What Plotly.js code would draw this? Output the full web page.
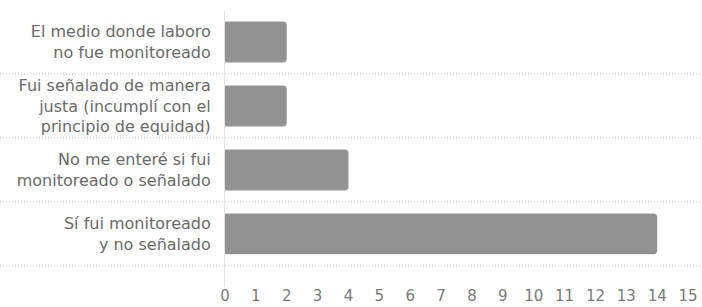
<!DOCTYPE html>
<html><head><meta charset="utf-8">
<script src="https://cdn.plot.ly/plotly-3.0.1.min.js"></script>
<style>html,body{margin:0;padding:0;background:#fff}#chart{width:702px;height:307px}</style>
</head><body><div id="chart"></div>
<script>
const categories = [
  "El medio donde laboro<br>no fue monitoreado",
  "Fui señalado de manera<br>justa (incumplí con el<br>principio de equidad)",
  "No me enteré si fui<br>monitoreado o señalado",
  "Sí fui monitoreado<br>y no señalado"
];
const values = [2, 2, 4, 14];
const xTicks = [0,1,2,3,4,5,6,7,8,9,10,11,12,13,14,15];

const L = 225, W = 702;
const sepShapes = [0.5, 1.5, 2.5, 3.5].map(v => ({
  type: 'line', xref: 'paper', yref: 'y',
  x0: -L/(W-L), x1: 1, y0: v, y1: v,
  line: {color: '#bdbdbd', width: 1, dash: '1px,2px'}, layer: 'below'
}));

Plotly.newPlot('chart', [{
  type: 'bar', orientation: 'h',
  x: values, y: categories,
  marker: {color: '#929292'},
  width: 0.64, hoverinfo: 'none'
}], {
  width: 702, height: 307,
  margin: {l: L, r: 0, t: 9.5, b: 20, pad: 0},
  paper_bgcolor: '#fff', plot_bgcolor: '#fff',
  barcornerradius: 4,
  font: {family: '"DejaVu Sans", sans-serif', color: '#6e6e6e', size: 15},
  xaxis: {range: [0, (W-L)/30.87], tickvals: xTicks, showgrid: false, zeroline: false,
          showline: false, ticks: '', tickfont: {size: 15, color: '#7a7a7a'}, ticklabelstandoff: -2},
  yaxis: {type: 'category', categoryorder: 'array', categoryarray: categories,
          range: [3.83, -0.5], showgrid: false, zeroline: false,
          showline: true, linecolor: '#e4e4e4', linewidth: 1, ticks: '',
          ticklabelstandoff: 10, tickfont: {size: 16, color: '#6a6a6a'}},
  shapes: sepShapes,
  showlegend: false
}, {staticPlot: true, displayModeBar: false});
</script></body></html>
